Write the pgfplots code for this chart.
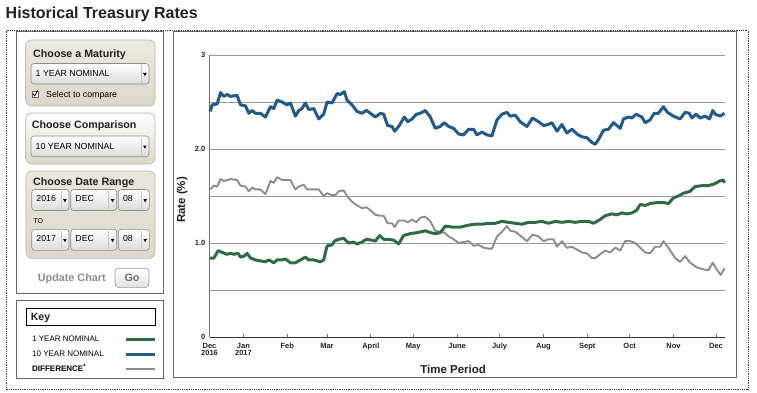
\documentclass[border=0pt]{standalone}
\usepackage{pgfplots}
\pgfplotsset{compat=1.18}
\usepackage{fontspec}
\setmainfont{Liberation Sans}
\definecolor{tblue}{HTML}{255A87}
\definecolor{tgreen}{HTML}{2F6B45}
\definecolor{tgray}{HTML}{8C8C8C}
\definecolor{gridc}{HTML}{9A9A9A}
\definecolor{beige}{HTML}{DCD7C8}
\definecolor{titlec}{HTML}{222222}

\pgfplotstableread{
d v
0.5 2.40
1.9 2.47
5.4 2.48
7.8 2.60
10.1 2.56
12.5 2.58
14.8 2.56
19.5 2.57
21.9 2.47
25.4 2.46
27.8 2.38
30.1 2.41
32.5 2.38
36.0 2.38
39.5 2.34
43.1 2.45
45.4 2.43
47.8 2.52
51.3 2.50
54.9 2.47
57.2 2.49
60.7 2.35
63.1 2.41
65.4 2.43
67.8 2.49
70.1 2.42
73.7 2.43
77.2 2.32
80.7 2.37
83.1 2.50
86.6 2.49
90.2 2.59
92.5 2.58
95.3 2.61
97.2 2.52
100.7 2.47
104.3 2.40
107.8 2.38
110.9 2.41
113.7 2.38
117.2 2.34
120.8 2.38
123.1 2.37
125.9 2.25
129.0 2.24
130.9 2.19
133.7 2.24
137.7 2.34
140.1 2.29
143.2 2.32
146.2 2.37
149.0 2.38
152.5 2.41
156.1 2.34
159.6 2.22
163.1 2.24
166.0 2.28
169.0 2.24
172.5 2.22
176.1 2.16
179.6 2.15
183.1 2.21
186.7 2.21
189.0 2.15
192.6 2.18
196.1 2.15
199.6 2.14
203.2 2.31
206.7 2.37
210.2 2.39
212.6 2.35
216.1 2.36
219.6 2.29
224.4 2.24
228.3 2.33
232.6 2.29
236.1 2.25
239.2 2.26
242.0 2.28
245.6 2.19
249.1 2.26
252.6 2.17
256.2 2.21
259.7 2.16
263.2 2.13
266.7 2.12
270.3 2.07
272.6 2.05
274.9 2.10
278.5 2.20
282.0 2.21
285.5 2.28
287.9 2.25
290.3 2.22
292.6 2.32
296.1 2.34
298.5 2.33
301.6 2.37
305.6 2.34
307.9 2.28
311.4 2.31
314.3 2.38
317.3 2.38
320.8 2.45
323.7 2.39
327.9 2.35
332.6 2.32
336.2 2.39
339.2 2.38
340.9 2.33
343.9 2.37
346.8 2.33
350.3 2.35
353.4 2.32
355.7 2.41
357.4 2.37
360.9 2.35
364.0 2.38
}\tenyear

\pgfplotstableread{
d v
0.5 0.84
3.1 0.84
6.1 0.92
8.9 0.90
12.5 0.88
14.8 0.89
17.2 0.88
20.2 0.89
21.9 0.85
24.3 0.86
26.6 0.89
29.0 0.84
32.5 0.82
36.0 0.81
39.5 0.80
41.9 0.82
45.4 0.79
47.8 0.82
51.3 0.82
53.7 0.83
57.2 0.79
60.7 0.79
64.3 0.82
67.8 0.85
70.1 0.82
73.7 0.82
78.4 0.80
80.7 0.82
83.1 0.97
86.6 0.98
88.3 1.02
91.3 1.04
94.8 1.05
98.4 1.00
101.9 1.01
104.3 0.99
107.8 1.01
110.9 1.04
114.9 1.03
117.2 1.02
120.3 1.08
123.1 1.04
126.6 1.04
130.2 1.03
133.7 0.99
137.2 1.08
142.0 1.10
146.7 1.11
152.5 1.13
156.1 1.11
159.6 1.10
163.1 1.11
166.7 1.18
171.4 1.17
177.3 1.17
183.1 1.19
187.9 1.20
192.6 1.20
197.2 1.21
202.0 1.21
206.7 1.23
211.4 1.22
216.1 1.21
220.8 1.20
225.5 1.22
230.2 1.22
234.9 1.23
239.6 1.21
244.4 1.23
249.1 1.22
253.8 1.23
258.5 1.22
263.2 1.23
268.0 1.23
271.4 1.21
276.1 1.25
279.7 1.29
284.4 1.31
288.0 1.30
291.4 1.32
295.0 1.31
298.5 1.32
302.0 1.35
304.4 1.41
307.9 1.40
311.4 1.42
316.2 1.43
320.9 1.43
324.4 1.42
327.9 1.48
331.4 1.50
335.0 1.53
339.7 1.55
343.2 1.60
347.9 1.61
352.6 1.61
357.1 1.63
360.6 1.66
363.0 1.67
364.0 1.64
}\oneyear

\pgfplotstableread{
d v
0.5 1.57
3.1 1.61
5.4 1.60
7.8 1.68
10.1 1.66
12.5 1.67
14.8 1.68
19.5 1.67
21.9 1.61
25.4 1.60
27.8 1.55
30.1 1.59
32.5 1.57
36.0 1.57
39.5 1.52
43.1 1.66
45.4 1.64
47.8 1.70
51.3 1.67
54.9 1.67
57.2 1.67
60.7 1.57
63.1 1.60
66.6 1.62
69.0 1.57
73.7 1.57
77.2 1.57
80.7 1.50
83.1 1.53
86.6 1.51
89.0 1.51
91.3 1.55
94.8 1.56
97.2 1.50
100.7 1.44
104.3 1.40
107.8 1.37
110.9 1.38
113.7 1.35
117.2 1.30
120.8 1.29
123.1 1.29
125.9 1.21
129.0 1.21
130.9 1.17
133.7 1.24
137.7 1.24
140.1 1.22
143.2 1.25
146.2 1.22
149.0 1.27
152.5 1.28
156.1 1.23
159.6 1.13
163.1 1.12
166.0 1.11
169.0 1.07
172.5 1.04
176.1 1.00
179.6 1.01
183.1 1.02
186.7 0.97
190.2 0.98
193.8 0.95
197.3 0.94
199.6 0.94
203.2 1.07
206.7 1.12
210.2 1.18
212.6 1.13
216.1 1.12
219.6 1.08
224.4 1.02
228.3 1.09
232.6 1.07
236.1 1.02
239.6 1.04
243.1 1.04
245.6 0.96
249.1 1.02
252.6 0.95
256.2 0.96
259.7 0.93
263.2 0.90
266.7 0.89
270.3 0.84
272.6 0.84
276.1 0.88
279.7 0.92
283.2 0.90
286.8 0.95
290.3 0.92
293.8 1.02
297.3 1.02
300.9 1.00
304.4 0.95
307.9 0.90
311.4 0.89
315.0 0.96
318.5 0.96
320.8 1.02
324.4 0.95
329.1 0.84
332.6 0.80
336.2 0.86
339.7 0.79
344.4 0.74
349.1 0.72
352.6 0.71
355.7 0.79
358.5 0.72
361.3 0.66
364.0 0.73
}\diffdata

% dropdown: x1 y1 x2 y2 baseline text
\newcommand\dropdown[6]{%
  \shadedraw[top color=white, bottom color=black!14, draw=black!45, rounded corners=3pt, line width=0.6pt] (#1,#2) rectangle (#3,#4);
  \draw[black!22, line width=0.6pt] ({#3-8},{#2+1.5}) -- ({#3-8},{#4-1.5});
  \fill[black] ({#3-5.8},{(#2+#4)/2-0.8}) -- ({#3-2.4},{(#2+#4)/2-0.8}) -- ({#3-4.1},{(#2+#4)/2+2.4}) -- cycle;
  \node[anchor=base west, inner sep=0, font=\fontsize{8.8}{10}\selectfont] at ({#1+4.5},#5) {#6};
}

\begin{document}
\begin{tikzpicture}
\useasboundingbox (0pt,0pt) rectangle (757pt,-392pt);
\begin{scope}[x=1pt,y=-1pt]
  % title
  \node[anchor=base west, inner sep=0, text=titlec, font=\fontsize{16}{18}\selectfont\bfseries] at (5.5,18.5) {Historical Treasury Rates};
  % outer dotted frame
  \draw[black!75, line width=0.9pt, dash pattern=on 0.9pt off 0.9pt] (6,30.5) rectangle (748,389);
  % left panel boxes
  \draw[black!60, line width=0.9pt] (16.7,31.7) rectangle (163.3,293.3);
  \draw[black!60, line width=0.9pt] (16.7,300.7) rectangle (163.3,378.3);
  % chart box
  \draw[black!60, line width=0.9pt] (173.3,31.7) rectangle (736,377.3);

  % Choose a Maturity
  \shadedraw[top color=white!45!beige, bottom color=beige, draw=black!30, line width=0.6pt, rounded corners=6pt] (25.7,40) rectangle (155,106);
  \node[anchor=base west, inner sep=0, text=titlec, font=\fontsize{10.7}{12}\selectfont\bfseries] at (33,57.3) {Choose a Maturity};
  \dropdown{31}{63.5}{149}{84}{76}{1 YEAR NOMINAL}
  \draw[black!60, fill=white, line width=0.5pt] (32,91) rectangle (38,97);
  \draw[black, line width=0.9pt] (33,93.8) -- (34.8,95.8) -- (37.6,90.6);
  \node[anchor=base west, inner sep=0, font=\fontsize{8.8}{10}\selectfont] at (46,97.3) {Select to compare};

  % Choose Comparison
  \shadedraw[top color=white, bottom color=beige, draw=black!30, line width=0.6pt, rounded corners=6pt] (25.7,113) rectangle (155,164);
  \node[anchor=base west, inner sep=0, text=titlec, font=\fontsize{10.7}{12}\selectfont\bfseries] at (31.7,128.3) {Choose Comparison};
  \dropdown{31}{136}{149}{156.7}{149}{10 YEAR NOMINAL}

  % Choose Date Range
  \shadedraw[top color=white!40!beige, bottom color=beige, draw=black!30, line width=0.6pt, rounded corners=6pt] (26,171) rectangle (155,258.3);
  \node[anchor=base west, inner sep=0, text=titlec, font=\fontsize{10.7}{12}\selectfont\bfseries] at (33,185) {Choose Date Range};
  \dropdown{31.7}{189.5}{69}{210.5}{201.7}{2016}
  \dropdown{70.7}{189.5}{116.7}{210.5}{201.7}{DEC}
  \dropdown{118.3}{189.5}{149.3}{210.5}{201.7}{08}
  \node[anchor=base west, inner sep=0, font=\fontsize{7}{8}\selectfont] at (33.3,223.3) {TO};
  \dropdown{31.7}{229.3}{69}{250.3}{241.7}{2017}
  \dropdown{70.7}{229.3}{116.7}{250.3}{241.7}{DEC}
  \dropdown{118.3}{229.3}{149.3}{250.3}{241.7}{08}

  % Update chart
  \node[anchor=base west, inner sep=0, text=black!45, font=\fontsize{10.8}{12}\selectfont\bfseries] at (37.7,281.7) {Update Chart};
  \shadedraw[top color=white, bottom color=black!12, draw=black!40, line width=0.6pt, rounded corners=3pt] (115,268.3) rectangle (149,287.3);
  \node[anchor=base, inner sep=0, text=black!55, font=\fontsize{10.8}{12}\selectfont\bfseries] at (132,281.7) {Go};

  % Key
  \draw[black, line width=0.9pt] (26.3,308.3) rectangle (155.7,325.7);
  \node[anchor=base west, inner sep=0, text=titlec, font=\fontsize{10.5}{12}\selectfont\bfseries] at (30.7,320.7) {Key};
  \node[anchor=base west, inner sep=0, font=\fontsize{8}{9}\selectfont] at (32,341.7) {1 YEAR NOMINAL};
  \node[anchor=base west, inner sep=0, font=\fontsize{8}{9}\selectfont] at (32,356.7) {10 YEAR NOMINAL};
  \node[anchor=base west, inner sep=0, font=\fontsize{8}{9}\selectfont\bfseries] at (32,371.7) {DIFFERENCE\textsuperscript{*}};
  \draw[tgreen, line width=3pt] (126,339) -- (155,339);
  \draw[tblue, line width=3pt] (126,354) -- (155,354);
  \draw[tgray, line width=2pt] (126,369) -- (155,369);
\end{scope}

\begin{axis}[
  at={(209.5pt,-337pt)}, anchor=south west,
  scale only axis, width=515pt, height=282pt,
  xmin=0, xmax=364, ymin=0, ymax=3,
  axis x line*=bottom, axis y line*=left,
  axis line style={-},
  x axis line style={black!80, line width=1pt},
  y axis line style={black!55, line width=0.9pt},
  ytick={0,1,2,3}, yticklabels={0,1.0,2.0,3},
  minor ytick={0.5,1.5,2.5},
  ymajorgrids, yminorgrids,
  major grid style={gridc, line width=0.8pt},
  minor grid style={gridc, line width=0.8pt},
  ytick style={draw=none},
  minor tick length=0pt,
  xtick={0,24,55,83,114,144,175,205,236,267,297,328,358},
  xticklabels={{Dec\\2016},{Jan\\2017},Feb,Mar,April,May,June,July,Aug,Sept,Oct,Nov,Dec},
  xtick style={black!55, line width=0.6pt},
  tick align=inside, major tick length=3pt,
  xticklabel style={font=\fontsize{7.5}{7.3}\selectfont\bfseries, align=center, text=titlec, inner sep=0pt, yshift=-6pt},
  yticklabel style={font=\fontsize{7.5}{8}\selectfont\bfseries, text=titlec, inner sep=0pt, xshift=-4pt},
  /pgf/number format/assume math mode=true,
  ylabel={Rate (\%)},
  ylabel style={at={(axis description cs:-0.053,0.486)}, anchor=center, font=\fontsize{11.5}{13}\selectfont\bfseries, text=titlec},
  xlabel={Time Period},
  xlabel style={at={(axis description cs:0.473,-0.131)}, anchor=base, font=\fontsize{11.5}{13}\selectfont\bfseries, text=titlec},
  clip=false,
]
\addplot[tgray, line width=1.9pt, line join=round] table[x=d, y=v] {\diffdata};
\addplot[tgreen, line width=3pt, line join=round] table[x=d, y=v] {\oneyear};
\addplot[tblue, line width=3pt, line join=round] table[x=d, y=v] {\tenyear};
\end{axis}
\end{tikzpicture}
\end{document}
